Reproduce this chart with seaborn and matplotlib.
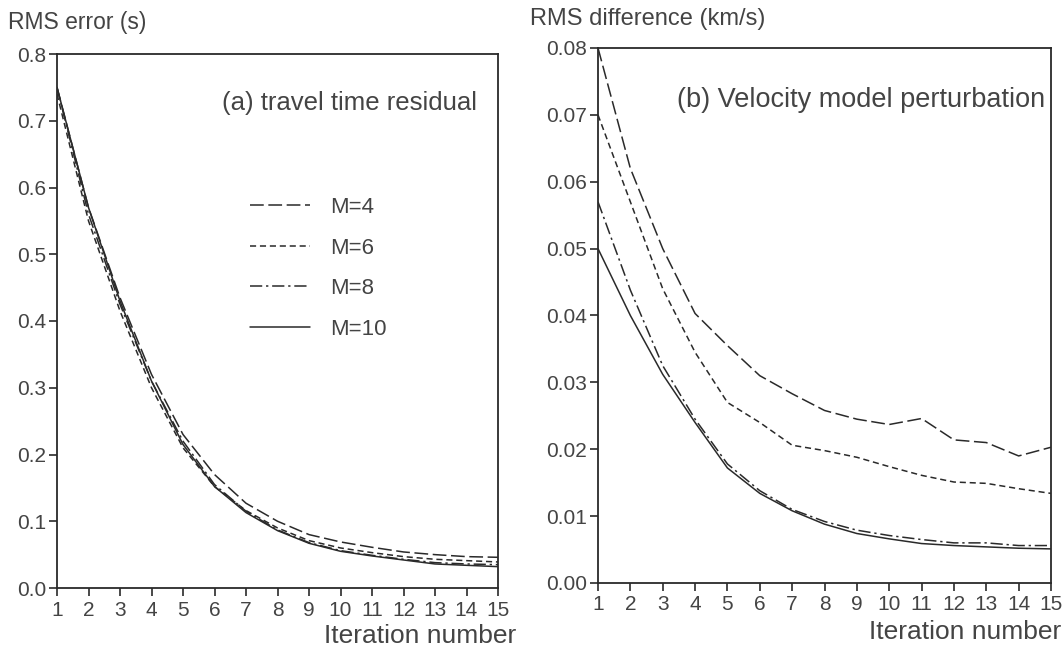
import numpy as np
import pandas as pd
import matplotlib
matplotlib.use("Agg")
import matplotlib.pyplot as plt
import seaborn as sns

iterations = list(range(1, 16))
series_labels = ["M=4", "M=6", "M=8", "M=10"]

# (a) travel time residual, RMS error (s)
tt_m4 = [0.75, 0.57, 0.435, 0.32, 0.23, 0.17, 0.127, 0.100, 0.080, 0.069, 0.061, 0.054, 0.050, 0.047, 0.046]
tt_m6 = [0.74, 0.55, 0.415, 0.30, 0.21, 0.152, 0.116, 0.090, 0.071, 0.060, 0.053, 0.047, 0.043, 0.041, 0.039]
tt_m8 = [0.75, 0.56, 0.425, 0.31, 0.22, 0.155, 0.115, 0.087, 0.068, 0.056, 0.049, 0.043, 0.038, 0.036, 0.035]
tt_m10 = [0.75, 0.57, 0.43, 0.31, 0.215, 0.152, 0.113, 0.086, 0.067, 0.055, 0.048, 0.042, 0.036, 0.034, 0.032]

# (b) velocity model perturbation, RMS difference (km/s)
vm_m4 = [0.080, 0.062, 0.050, 0.0403, 0.0355, 0.031, 0.0283, 0.0258, 0.0245, 0.0237, 0.0246, 0.0214, 0.0210, 0.0190, 0.0203]
vm_m6 = [0.070, 0.057, 0.044, 0.0345, 0.0270, 0.0240, 0.0206, 0.0198, 0.0188, 0.0174, 0.0161, 0.0151, 0.0149, 0.0141, 0.0134]
vm_m8 = [0.057, 0.0438, 0.0325, 0.0245, 0.0178, 0.0138, 0.0110, 0.0092, 0.0079, 0.0071, 0.0065, 0.0060, 0.0060, 0.0056, 0.0056]
vm_m10 = [0.050, 0.040, 0.0312, 0.0240, 0.0172, 0.0134, 0.0108, 0.0088, 0.0074, 0.0066, 0.0059, 0.0056, 0.0054, 0.0052, 0.0051]

left_yticks = [0.0, 0.1, 0.2, 0.3, 0.4, 0.5, 0.6, 0.7, 0.8]
right_yticks = [0.00, 0.01, 0.02, 0.03, 0.04, 0.05, 0.06, 0.07, 0.08]


def long_df(series):
    rows = []
    for lab, vals in zip(series_labels, series):
        for it, v in zip(iterations, vals):
            rows.append({"iter": it, "val": v, "M": lab})
    return pd.DataFrame(rows)


df_a = long_df([tt_m4, tt_m6, tt_m8, tt_m10])
df_b = long_df([vm_m4, vm_m6, vm_m8, vm_m10])

sns.set_style("ticks")
plt.rcParams["font.family"] = ["Liberation Sans", "DejaVu Sans"]

ink = "#2a2a2a"
txt = "#444444"
dash_map = {"M=4": (9, 3), "M=6": (4, 2.5), "M=8": (8, 2.5, 1.5, 2.5), "M=10": ""}

fig = plt.figure(figsize=(10.64, 6.52), dpi=100)
ax1 = fig.add_axes([57 / 1064, 1 - 588 / 652, (498 - 57) / 1064, (588 - 54) / 652])
ax2 = fig.add_axes([598 / 1064, 1 - 583 / 652, (1051 - 598) / 1064, (583 - 48) / 652])

for ax, df, yt, fmt, legend in [
    (ax1, df_a, left_yticks, "{:.1f}", True),
    (ax2, df_b, right_yticks, "{:.2f}", False),
]:
    sns.lineplot(data=df, x="iter", y="val", style="M", dashes=dash_map,
                 style_order=series_labels, color=ink, linewidth=1.1,
                 ax=ax, legend=legend)
    ax.set_xlim(1, 15)
    ax.set_ylim(yt[0], yt[-1])
    ax.set_xticks(iterations)
    ax.set_xticklabels([str(i) for i in iterations])
    ax.set_yticks(yt)
    ax.set_yticklabels([fmt.format(v) for v in yt])
    ax.set_xlabel("")
    ax.set_ylabel("")
    for s in ax.spines.values():
        s.set_visible(True)
        s.set_color(ink)
        s.set_linewidth(1.3)
    ax.tick_params(axis="both", direction="out", length=6, width=1.2, color=ink,
                   labelsize=15, labelcolor=txt, pad=2)
    ax.tick_params(axis="x", pad=3)

# panel annotations
fig.text(222 / 1064, 1 - 103 / 652, "(a) travel time residual", ha="left", va="center",
         fontsize=18.5, color=txt)
fig.text(1045 / 1064, 1 - 100 / 652, "(b) Velocity model perturbation", ha="right", va="center",
         fontsize=19.5, color=txt)

# axis titles positioned in figure space
fig.text(8 / 1064, 1 - 22 / 652, "RMS error (s)", ha="left", va="center", fontsize=16.5, color=txt)
fig.text(530 / 1064, 1 - 19 / 652, "RMS difference (km/s)", ha="left", va="center", fontsize=17, color=txt)
fig.text(516 / 1064, 1 - 636 / 652, "Iteration number", ha="right", va="center", fontsize=19, color=txt)
fig.text(1061 / 1064, 1 - 632 / 652, "Iteration number", ha="right", va="center", fontsize=19, color=txt)

# legend in panel (a)
handles, labels = ax1.get_legend_handles_labels()
leg = ax1.legend(handles, labels, frameon=False, loc="upper left",
                 bbox_to_anchor=((250 - 57) / 441, (588 - 197) / 534),
                 borderaxespad=0, borderpad=0,
                 handlelength=2.7, handletextpad=0.9,
                 labelspacing=0.88, fontsize=16)
for t in leg.get_texts():
    t.set_color(txt)
for h in leg.get_lines():
    h.set_linewidth(1.1)

fig.savefig("out.png", dpi=100)
